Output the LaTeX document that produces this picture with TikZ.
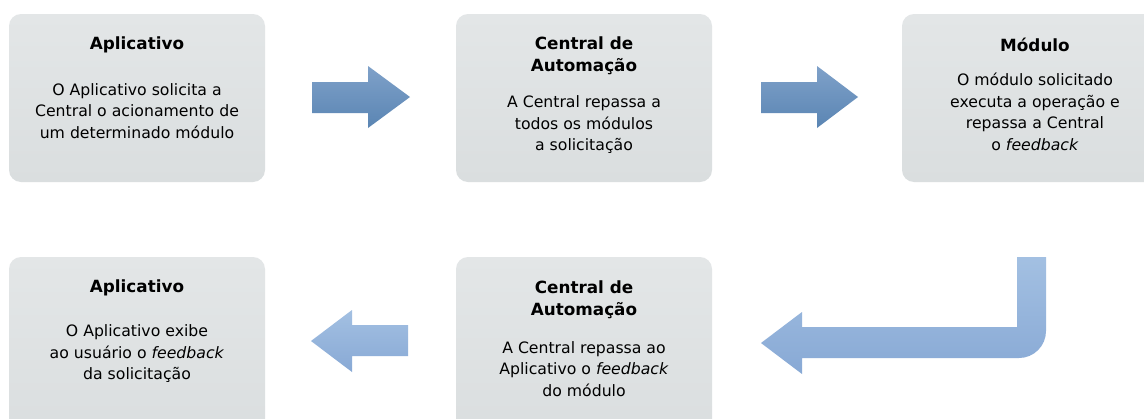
\documentclass[tikz,border=0pt]{standalone}
\usepackage{fontspec}
\setmainfont{DejaVu Sans}
\begin{document}
\begin{tikzpicture}[x=1pt,y=-1pt,
  card/.style={rounded corners=12pt, top color=cardtop, bottom color=cardbot, draw=none},
  ttl/.style={font=\fontsize{16.8}{22}\selectfont\bfseries, align=center, inner sep=0pt},
  bdy/.style={font=\fontsize{15.7}{21.5}\selectfont, align=center, inner sep=0pt},
  darrow/.style={top color=darktop, bottom color=darkbot, draw=none},
  larrow/.style={top color=lighttop, bottom color=lightbot, draw=none}]
\definecolor{cardtop}{HTML}{E3E6E7}
\definecolor{cardbot}{HTML}{DADEDF}
\definecolor{darktop}{HTML}{7FA1C9}
\definecolor{darkbot}{HTML}{5A85B3}
\definecolor{lighttop}{HTML}{A3C0E2}
\definecolor{lightbot}{HTML}{88A9D5}
\useasboundingbox[fill=white] (0,0) rectangle (1144,418);
% cards
\path[card] (9,14) rectangle (265,182) node[pos=0.5] (b1) {};
\path[card] (456,14) rectangle (712,182) node[pos=0.5] (b2) {};
\path[card] (902,14) rectangle (1160,182) node[pos=0.5] (b3) {};
\path[card] (9,257) rectangle (265,440) node[pos=0.5] (b4) {};
\path[card] (456,257) rectangle (712,440) node[pos=0.5] (b5) {};
% texts
\node[ttl] (t1) at (137,45) {Aplicativo};
\node[bdy] (d1) at (137,111) {O Aplicativo solicita a\\Central o acionamento de\\um determinado módulo};
\node[ttl] (t2) at (584,56) {Central de\\Automação};
\node[bdy] (d2) at (584,125) {A Central repassa a\\todos os módulos\\a solicitação};
\node[ttl] (t3) at (1035,45) {Módulo};
\node[bdy] (d3) at (1035,112) {O módulo solicitado\\executa a operação e\\repassa a Central\\o \textit{feedback}};
\node[ttl] (t4) at (137,288) {Aplicativo};
\node[bdy] (d4) at (137,354) {O Aplicativo exibe\\ao usuário o \textit{feedback}\\da solicitação};
\node[ttl] (t5) at (584,300) {Central de\\Automação};
\node[bdy] (d5) at (584,369) {A Central repassa ao\\Aplicativo o \textit{feedback}\\do módulo};
% arrows
\path[darrow] (312,82) -- (368,82) -- (368,66) -- (410,97) -- (368,128) -- (368,113) -- (312,113) -- cycle;
\path[darrow] (761,82) -- (817,82) -- (817,66) -- (858,97) -- (817,128) -- (817,113) -- (761,113) -- cycle;
\path[larrow] (1017,257) -- (1046,257) -- (1046,331) arc[start angle=0,end angle=90,radius=27] -- (802,358) -- (802,374) -- (761,343) -- (802,312) -- (802,327) -- (1017,327) -- cycle;
\path[larrow] (408,325) -- (352,325) -- (352,310) -- (311,341) -- (352,372) -- (352,356) -- (408,356) -- cycle;
\end{tikzpicture}
\end{document}
